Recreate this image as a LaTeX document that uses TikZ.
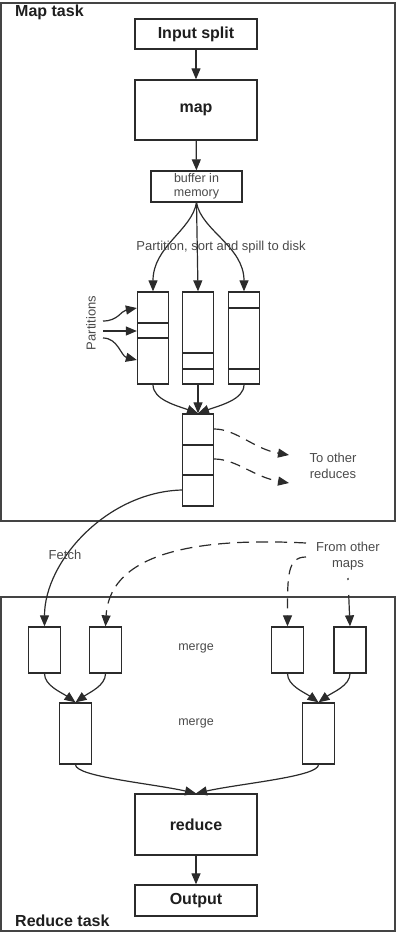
\documentclass[tikz,border=0pt]{standalone}
\usepackage{fontspec}
\setmainfont{Liberation Sans}
\usepackage{tikz}
\usetikzlibrary{arrows.meta,positioning}
\definecolor{flowline}{HTML}{2B2B2B}
\definecolor{frameline}{HTML}{444444}
\definecolor{headtext}{HTML}{1E1E1E}
\definecolor{notetext}{HTML}{4A4A4A}

\tikzset{
  stagebox/.style={draw=flowline, line width=1.3pt, fill=white, inner sep=0pt,
    font=\bfseries\fontsize{16}{18}\selectfont, text=headtext},
  spillbox/.style={draw=flowline, line width=1.3pt, fill=white, inner sep=0pt,
    minimum width=31pt, minimum height=92pt},
  fetchbox/.style={draw=flowline, line width=1.3pt, fill=white, inner sep=0pt,
    minimum width=32pt, minimum height=46pt},
  taskframe/.style={draw=frameline, line width=1.6pt, inner sep=0pt},
  tasklabel/.style={font=\bfseries\fontsize{16}{18}\selectfont, text=headtext, inner sep=0pt},
  note/.style={font=\fontsize{13}{16}\selectfont, text=notetext, inner sep=0pt, align=center},
  flow/.style={draw=flowline, line width=1.2pt, -{Triangle[length=11pt,width=9pt]}},
  remote/.style={flow, dash pattern=on 10pt off 7pt}
}

\begin{document}
\begin{tikzpicture}[x=1pt, y=-1pt]
  \useasboundingbox (0,0) rectangle (405,944);

  % Task frames
  \node[taskframe, minimum width=394pt, minimum height=518pt] (maptask) at (198,262) {};
  \node[taskframe, minimum width=394pt, minimum height=334pt] (reducetask) at (198,764) {};
  \node[tasklabel, anchor=north west] (maplabel) at (15,5) {Map task};
  \node[tasklabel, anchor=base west] (reducelabel) at (15,926) {Reduce task};

  % Map side
  \node[stagebox, minimum width=122pt, minimum height=30pt] (split) at (196,34) {Input split};
  \node[stagebox, minimum width=122pt, minimum height=60pt] (map) at (196,110) {map};
  \node[stagebox, minimum width=91pt, minimum height=31pt, font=\fontsize{12.5}{14}\selectfont,
    text=notetext, align=center] (buffer) at (196.5,186.5) {buffer in\\memory};
  \draw[flow] (split) -- (map);
  \draw[flow] (map) -- (buffer);

  % Spill files
  \node[spillbox] (spillA) at (153,338) {};
  \node[spillbox] (spillB) at (198,338) {};
  \node[spillbox] (spillC) at (244,338) {};
  \draw[flowline, line width=1.3pt] (spillA.west |- 0,323) -- (spillA.east |- 0,323);
  \draw[flowline, line width=1.3pt] (spillA.west |- 0,338) -- (spillA.east |- 0,338);
  \draw[flowline, line width=1.3pt] (spillB.west |- 0,353) -- (spillB.east |- 0,353);
  \draw[flowline, line width=1.3pt] (spillB.west |- 0,369) -- (spillB.east |- 0,369);
  \draw[flowline, line width=1.3pt] (spillC.west |- 0,308) -- (spillC.east |- 0,308);
  \draw[flowline, line width=1.3pt] (spillC.west |- 0,369) -- (spillC.east |- 0,369);

  \draw[flow] (buffer.south) .. controls +(-5,28) and +(0,-45) .. (spillA.north);
  \draw[flow] (buffer.south) -- (spillB.north);
  \draw[flow] (buffer.south) .. controls +(5,28) and +(0,-45) .. (spillC.north);
  \node[note] (spilltext) at (221,247) {Partition, sort and spill to disk};

  % Partitions
  \node[note, rotate=90] (partlabel) at (91,323) {Partitions};
  \coordinate (partA) at (103,321);
  \coordinate (partB) at (103,331);
  \coordinate (partC) at (103,338);
  \draw[flow] (partA) .. controls +(15,0) and +(-16,3) .. ([yshift=30pt]spillA.west);
  \draw[flow] (partB) -- ([yshift=7pt]spillA.west);
  \draw[flow] (partC) .. controls +(15,0) and +(-16,-4) .. ([yshift=-22pt]spillA.west);

  % Merged map output
  \node[spillbox] (merged) at (198,460) {};
  \draw[flowline, line width=1.3pt] (merged.west |- 0,445) -- (merged.east |- 0,445);
  \draw[flowline, line width=1.3pt] (merged.west |- 0,475) -- (merged.east |- 0,475);
  \draw[flow] (spillA.south) .. controls +(0,15) and +(-22,-8) .. (merged.north);
  \draw[flow] (spillB.south) -- (merged.north);
  \draw[flow] (spillC.south) .. controls +(0,15) and +(22,-8) .. (merged.north);

  % To other reduces
  \coordinate (otherA) at (289,455);
  \coordinate (otherB) at (289,483);
  \draw[remote] ([yshift=31pt]merged.east) .. controls +(22,0) and +(-35,-6) .. (otherA);
  \draw[remote] ([yshift=1pt]merged.east) .. controls +(22,0) and +(-35,-6) .. (otherB);
  \node[note] (othertext) at (333,465.5) {To other\\reduces};

  % Reduce side
  \node[fetchbox] (copyA) at (44.5,650) {};
  \node[fetchbox] (copyB) at (105.5,650) {};
  \node[fetchbox] (copyC) at (287.5,650) {};
  \node[fetchbox] (copyD) at (350,650) {};
  \node[fetchbox, minimum height=61pt] (runL) at (75.5,733.5) {};
  \node[fetchbox, minimum height=61pt] (runR) at (318.5,733.5) {};
  \node[stagebox, minimum width=122pt, minimum height=61pt] (reduce) at (196,824.5) {reduce};
  \node[stagebox, minimum width=122pt, minimum height=31pt] (output) at (196,900.5) {Output};
  \node[note, font=\fontsize{12.5}{15}\selectfont] (mergeA) at (196,648) {merge};
  \node[note, font=\fontsize{12.5}{15}\selectfont] (mergeB) at (196,723) {merge};

  % Fetch
  \draw[flow] ([yshift=-30pt]merged.west) .. controls +(-75,2) and +(0,-65) .. (copyA.north);
  \node[note] (fetchtext) at (65,555) {Fetch};

  % From other maps
  \coordinate (remoteA) at (306,543);
  \coordinate (remoteB) at (306,557);
  \coordinate (remoteC) at (348,578);
  \draw[remote, dash pattern=on 12pt off 7pt] (remoteA) .. controls (210,538) and (110,548) .. (copyB.north);
  \draw[remote] (remoteB) .. controls +(-19,0) and +(0,-50) .. (copyC.north);
  \draw[remote, dash pattern=on 2pt off 15pt on 40pt] (remoteC) -- (copyD.north);
  \node[note] (remotetext) at (348,556.5) {From other\\maps};

  % Merge passes
  \draw[flow] (copyA.south) .. controls +(0,12) and +(-14,-10) .. (runL.north);
  \draw[flow] (copyB.south) .. controls +(0,12) and +(14,-10) .. (runL.north);
  \draw[flow] (copyC.south) .. controls +(0,12) and +(-14,-10) .. (runR.north);
  \draw[flow] (copyD.south) .. controls +(0,12) and +(14,-10) .. (runR.north);
  \draw[flow] (runL.south) .. controls +(0,12) and +(-45,-10) .. (reduce.north);
  \draw[flow] (runR.south) .. controls +(0,12) and +(45,-10) .. (reduce.north);
  \draw[flow] (reduce) -- (output);
\end{tikzpicture}
\end{document}
